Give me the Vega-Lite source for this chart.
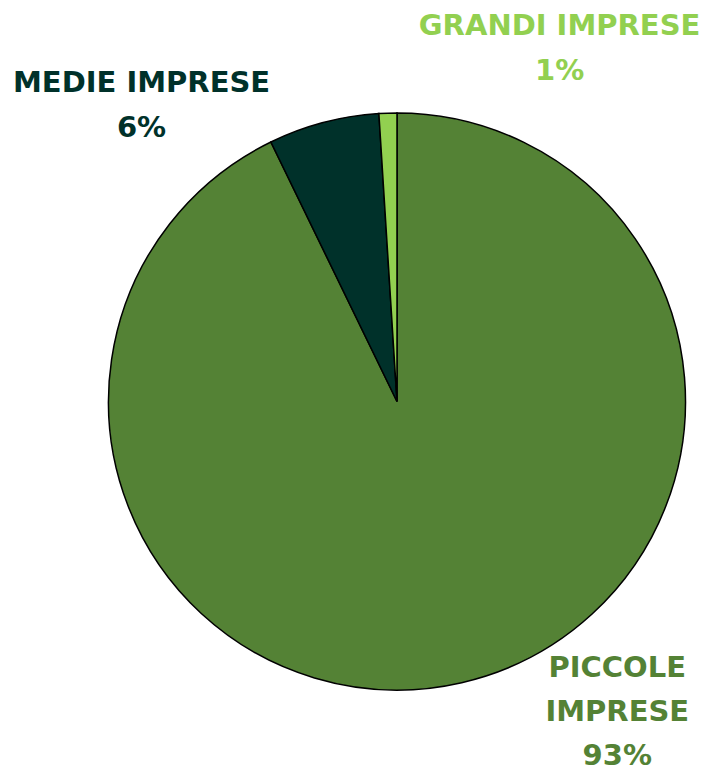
{
  "$schema": "https://vega.github.io/schema/vega-lite/v6.json",
  "autosize": {"type": "none"},
  "width": 578,
  "height": 577,
  "padding": {"left": 108, "top": 113, "right": 25, "bottom": 86},
  "background": "white",
  "view": {"stroke": null},
  "data": {
    "values": [
      {"categoria": "PICCOLE IMPRESE", "valore": 92.8, "etichetta": "PICCOLE\nIMPRESE\n93%", "n": 1},
      {"categoria": "MEDIE IMPRESE", "valore": 6.2, "etichetta": "MEDIE IMPRESE\n6%", "n": 2},
      {"categoria": "GRANDI IMPRESE", "valore": 1.0, "etichetta": "GRANDI IMPRESE\n1%", "n": 3}
    ]
  },
  "encoding": {
    "theta": {"field": "valore", "type": "quantitative", "stack": true},
    "order": {"field": "n", "type": "quantitative"},
    "color": {
      "field": "categoria",
      "type": "nominal",
      "scale": {
        "domain": ["PICCOLE IMPRESE", "MEDIE IMPRESE", "GRANDI IMPRESE"],
        "range": ["#548235", "#00312A", "#92D050"]
      },
      "legend": null
    }
  },
  "layer": [
    {"mark": {"type": "arc", "stroke": "#000000", "strokeWidth": 1.5}},
    {
      "mark": {"type": "text", "radius": 300, "dx": 172, "dy": -67, "align": "center", "baseline": "alphabetic", "lineBreak": "\n", "lineHeight": 45, "font": "DejaVu Sans", "fontWeight": "bold", "fontSize": 29},
      "encoding": {"text": {"condition": {"test": "datum.n == 3", "field": "etichetta"}, "value": ""}}
    },
    {
      "mark": {"type": "text", "radius": 300, "dx": -179, "dy": -19, "align": "center", "baseline": "alphabetic", "lineBreak": "\n", "lineHeight": 45, "font": "DejaVu Sans", "fontWeight": "bold", "fontSize": 29},
      "encoding": {"text": {"condition": {"test": "datum.n == 2", "field": "etichetta"}, "value": ""}}
    },
    {
      "mark": {"type": "text", "radius": 300, "dx": 153, "dy": -17, "align": "center", "baseline": "alphabetic", "lineBreak": "\n", "lineHeight": 44, "font": "DejaVu Sans", "fontWeight": "bold", "fontSize": 29},
      "encoding": {"text": {"condition": {"test": "datum.n == 1", "field": "etichetta"}, "value": ""}}
    }
  ]
}
